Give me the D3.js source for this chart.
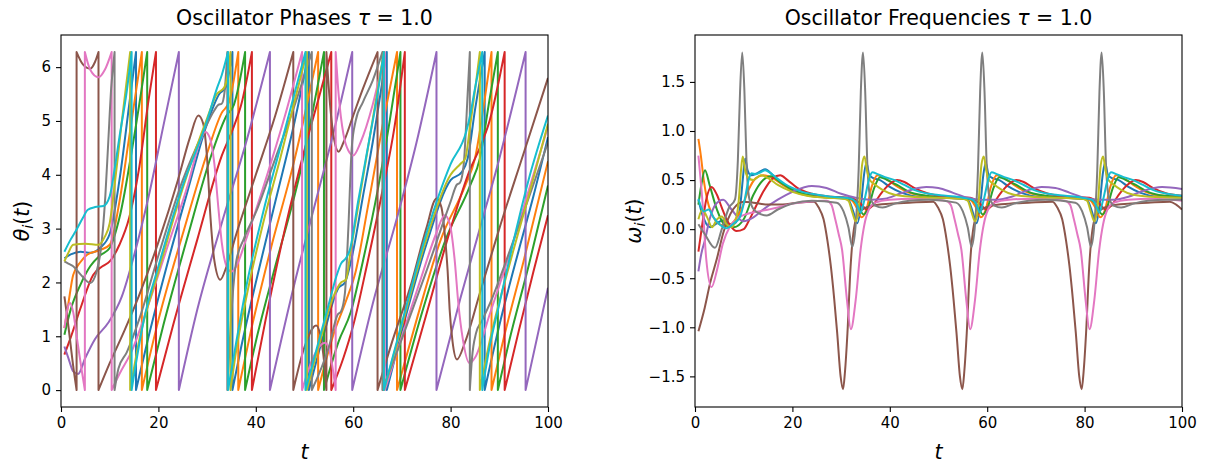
<!DOCTYPE html>
<html lang="en">
    <head>
        <meta charset="utf-8">
        <script src="https://d3js.org/d3.v7.min.js"></script>
        <style>
            body { margin: 0; background: #fff; }
            svg { display: block; }
            text { font-family: "DejaVu Sans", sans-serif; fill: #000; }
        </style>
        <title>Oscillator Phases and Frequencies</title>
    </head>
    <body>
        <svg id="chart" width="1206" height="467"></svg>
        <script>
            // ------------------------------------------------------------------------
            // Data: [t, value] knots per oscillator.
            // In the phase panel a repeated t marks a wrap (6.28 -> 0 or 0 -> 6.28).
            // ------------------------------------------------------------------------
            const names = ["blue", "orange", "green", "red", "purple", "brown", "pink", "gray", "olive", "cyan"];
            const colors = ["#1f77b4", "#ff7f0e", "#2ca02c", "#d62728", "#9467bd", "#8c564b", "#e377c2", "#7f7f7f", "#bcbd22", "#17becf"];
            const xTicks = [0, 20, 40, 60, 80, 100];
            const phaseTicks = [0, 1, 2, 3, 4, 5, 6];
            const freqTicks = [-1.5, -1.0, -0.5, 0.0, 0.5, 1.0, 1.5];

            const thetaBlue = [[0.7,2.45],[2,2.52],[4,2.57],[6,2.55],[8,2.64],[10,2.9],[12,3.9],[14,5.3],[15.4,6.28],[15.4,0],[18,1.0],[22,2.4],[26,3.7],[30,4.95],[32.5,5.5],[33.8,5.62],[35.2,6.28],[35.2,0],[37,0.8],[40,2.0],[44,3.5],[48,5.0],[50.9,6.28],[50.9,0],[54,1.05],[57,1.9],[58.3,2.0],[59.8,2.5],[62,3.6],[64,4.6],[66.9,6.28],[66.9,0],[70,1.1],[75,2.7],[80,3.9],[82.3,4.05],[83.5,4.3],[85,5.2],[87,6.28],[87,0],[90,1.2],[94,2.6],[97,3.6],[100,4.7]];
            const thetaOrange = [[0.7,1.15],[1.5,1.6],[2.5,2.14],[4,2.38],[5.3,2.51],[8,2.6],[10,2.7],[12,3.5],[14,4.7],[16.6,6.28],[16.6,0],[20,1.3],[25,2.9],[30,4.4],[33,5.15],[34.5,5.35],[36.4,6.28],[36.4,0],[39,1.1],[43,2.6],[48,4.3],[52.8,6.28],[52.8,0],[56,1.05],[58.5,1.65],[60.5,2.2],[63,3.4],[66,4.9],[69,6.28],[69,0],[73,1.3],[78,2.8],[83,3.8],[85,4.3],[87,5.4],[88.4,6.28],[88.4,0],[91,1.0],[95,2.4],[100,4.25]];
            const thetaGreen = [[0.7,1.03],[2,1.5],[4,1.96],[6,2.3],[8,2.5],[10,2.64],[12,3.2],[15,4.7],[17.7,6.28],[17.7,0],[21,1.2],[26,2.85],[31,4.4],[34,5.1],[35.5,5.3],[37.8,6.28],[37.8,0],[40,0.9],[44,2.3],[49,4.0],[54,6.28],[54,0],[57,0.9],[59.5,1.45],[62,2.4],[65,3.7],[67.5,5.0],[69.7,6.28],[69.7,0],[74,1.4],[79,2.8],[84,3.8],[86,4.3],[88,5.4],[89.7,6.28],[89.7,0],[92,0.9],[96,2.3],[100,3.8]];
            const thetaRed = [[0.7,0.66],[2,0.98],[4,1.52],[6.6,2.14],[8.5,2.3],[10,2.39],[12,2.7],[14,3.2],[16,4.1],[18,5.4],[19.5,6.28],[19.5,0],[23,1.2],[28,2.8],[33,4.35],[35.5,4.9],[37,5.3],[39.2,6.28],[39.2,0],[42,1.3],[46,3.0],[50.4,4.6],[53,5.45],[55.5,6.28],[55.5,0],[58,0.6],[60,1.2],[63,2.4],[66,3.7],[68.5,4.9],[70.6,6.28],[70.6,0],[75,1.4],[80,3.0],[84,4.1],[86,4.5],[88,5.0],[91.1,6.28],[91.1,0],[94,1.1],[97,2.2],[100,3.25]];
            const thetaPurple = [[0.7,0.81],[1.5,0.6],[2.5,0.35],[3.5,0.3],[5,0.6],[7,0.95],[9.7,1.25],[12.5,1.74],[15,2.5],[18,3.6],[21,4.9],[24.2,6.28],[24.2,0],[28,1.5],[33,3.1],[38,4.6],[42.9,6.28],[42.9,0],[48,2.0],[52,3.4],[56,4.8],[59.8,6.28],[59.8,0],[64,1.6],[69,3.2],[73,4.6],[77.1,6.28],[77.1,0],[82,1.7],[86,3.0],[90,4.3],[95.4,6.28],[95.4,0],[100,1.9]];
            const thetaBrown = [[0.7,1.74],[1.5,1.2],[2.5,0.45],[3.2,0],[3.2,6.28],[4.5,6.05],[6,5.97],[7,6.1],[7.7,6.28],[7.7,0],[10,0.5],[13,1.1],[16,1.75],[20,2.75],[24,3.9],[26.5,4.7],[28.2,5.1],[29.2,4.95],[30,4.3],[30.7,3.2],[31.5,2.4],[32.7,2.05],[34,2.3],[36,2.9],[40,4.0],[44,5.1],[47.7,6.28],[47.7,0],[50,0.8],[52.4,1.2],[53.3,1.0],[54,0.55],[54.5,0],[54.5,6.28],[55.3,5.25],[56.1,4.65],[57,4.43],[58,4.6],[60,5.1],[62,5.6],[65,6.28],[65,0],[68,0.9],[72,2.0],[75,3.0],[77.1,3.56],[78.1,3.4],[78.9,2.8],[79.4,2.2],[79.8,1.5],[80.4,0.9],[81.3,0.57],[83,0.9],[86,1.8],[90,3.0],[95,4.4],[100,5.8]];
            const thetaPink = [[0.7,1.15],[1.3,1.5],[1.85,1.62],[2.5,1.45],[3.3,0.95],[4.2,0.4],[4.9,0],[4.9,6.28],[6,5.95],[7.7,5.81],[9,5.95],[10.4,6.28],[10.4,0],[12,0.3],[14.5,0.72],[18,1.6],[22,2.7],[26,3.8],[28.5,4.6],[29.6,4.8],[30.5,4.7],[31.5,4.2],[32.3,3.4],[33,2.75],[34,2.3],[35,2.2],[36,2.3],[38,2.8],[42,3.9],[46,5.1],[49.5,6.28],[49.5,0],[52,0.65],[54.2,0.88],[55,0.78],[55.8,0.4],[56.4,0],[56.4,6.28],[57,5.5],[58,4.75],[59,4.45],[60,4.36],[61.5,4.6],[64,5.3],[66.5,6.28],[66.5,0],[70,1.0],[74,2.1],[77,2.9],[78.8,3.25],[79.8,3.1],[80.8,2.45],[81.6,1.6],[82.5,0.95],[83.9,0.5],[85,0.6],[88,1.4],[92,2.5],[96,3.7],[100,4.9]];
            const thetaGray = [[0.7,2.39],[1.5,2.35],[2.5,2.3],[4,2.15],[6,1.99],[7.3,2.2],[8.3,2.7],[9.1,3.6],[9.7,4.6],[10.3,5.6],[11,6.28],[11,0],[11.8,0.4],[13.5,0.7],[16,1.3],[20,2.5],[25,3.9],[29,4.75],[31.5,5.2],[32.3,5.3],[33,5.32],[33.6,5.55],[34.15,6.28],[34.15,0],[34.6,0.8],[35.2,1.7],[36,2.4],[37.5,2.8],[40,3.3],[44,4.3],[48,5.3],[51.5,6.28],[51.5,0],[55,0.8],[56.8,1.4],[57.5,1.46],[58.3,1.8],[59,3.0],[59.7,4.5],[60.5,5.0],[62,5.35],[64,5.75],[66,6.28],[66,0],[70,0.95],[75,2.2],[80,3.5],[81.3,3.82],[81.9,3.85],[82.7,4.2],[83.5,5.5],[83.95,6.28],[83.95,0],[84.4,0.6],[85.2,1.05],[86.5,1.3],[88.5,1.7],[91,2.3],[95,3.3],[100,4.6]];
            const thetaOlive = [[0.7,2.39],[1.5,2.55],[2.5,2.7],[5,2.72],[7.7,2.7],[9,2.85],[10,3.1],[11,3.8],[12.5,5.0],[14.2,6.28],[14.2,0],[16,0.9],[20,2.2],[25,3.75],[30,5.05],[32,5.5],[33.5,5.62],[34.3,5.9],[34.8,6.28],[34.8,0],[36,0.75],[38,1.7],[41.5,3.1],[45,4.3],[50.5,6.28],[50.5,0],[53,0.85],[56,1.75],[57.5,2.0],[58.5,2.05],[59.5,2.6],[61,3.4],[63.5,4.75],[66.3,6.28],[66.3,0],[70,1.2],[75,2.8],[80,4.0],[82,4.2],[83,4.3],[84,4.9],[85.2,5.7],[86,6.28],[86,0],[88,0.9],[92,2.3],[96,3.6],[100,4.95]];
            const thetaCyan = [[0.7,2.57],[2,2.8],[3,2.95],[4.5,3.2],[5.5,3.35],[7,3.4],[8.7,3.42],[10,3.6],[11,4.1],[12,4.7],[13.5,5.55],[14.5,6.28],[14.5,0],[17,1.3],[20,2.3],[25,3.8],[29.9,4.98],[32,5.6],[33,5.85],[34.3,6.28],[34.3,0],[36,0.9],[38,1.9],[41.5,3.3],[45,4.5],[50.2,6.28],[50.2,0],[52,0.6],[55,1.6],[56.5,2.1],[57.5,2.35],[58.5,2.45],[59.3,2.6],[61,3.5],[63.4,4.7],[65,5.5],[66.3,6.28],[66.3,0],[70,1.25],[75,2.9],[80,4.2],[83.2,4.8],[84,5.1],[85,5.6],[86.5,6.28],[86.5,0],[88,0.8],[90,1.6],[93,2.8],[96,3.9],[100,5.1]];

            const omegaBlue = [[0.7,0.3],[1.5,0.15],[3.1,0.02],[4.5,0.06],[5.8,0.09],[7,0.05],[8.2,0.06],[9.2,0.2],[9.8,0.5],[10.3,0.72],[10.8,0.6],[11.5,0.55],[12.8,0.57],[14.4,0.61],[16,0.55],[18,0.46],[20,0.4],[23,0.35],[27,0.33],[30.5,0.32],[31.5,0.3],[32.5,0.18],[33.3,0.06],[34.1,0.25],[34.7,0.55],[35.2,0.68],[35.8,0.55],[36.6,0.52],[38,0.5],[40,0.43],[42.5,0.37],[46,0.33],[51,0.32],[55,0.31],[56,0.3],[57,0.18],[57.8,0.06],[58.6,0.25],[59.2,0.55],[59.7,0.68],[60.3,0.55],[61.1,0.52],[62.5,0.5],[64.5,0.43],[67,0.37],[70.5,0.33],[75.5,0.32],[79.5,0.31],[80.5,0.3],[81.5,0.18],[82.3,0.06],[83.1,0.25],[83.7,0.55],[84.2,0.68],[84.8,0.55],[85.6,0.52],[87,0.5],[89,0.43],[91.5,0.37],[95,0.33],[100,0.32]];
            const omegaOrange = [[0.7,0.92],[1.2,0.75],[1.8,0.5],[2.5,0.3],[3.5,0.15],[5,0.05],[6.5,0.03],[8,0.08],[9.5,0.2],[11,0.4],[12.5,0.52],[14,0.55],[16,0.52],[18,0.45],[21,0.37],[25,0.33],[29,0.32],[32,0.3],[33.2,0.22],[34.2,0.12],[35.2,0.2],[36.2,0.42],[37.5,0.55],[39,0.52],[41,0.45],[43.5,0.38],[47,0.34],[52,0.32],[56.5,0.3],[57.7,0.22],[58.7,0.12],[59.7,0.2],[60.7,0.42],[62,0.55],[63.5,0.52],[65.5,0.45],[68,0.38],[71.5,0.34],[76.5,0.32],[81,0.3],[82.2,0.22],[83.2,0.12],[84.2,0.2],[85.2,0.42],[86.5,0.55],[88,0.52],[90,0.45],[92.5,0.38],[96,0.34],[100,0.33]];
            const omegaGreen = [[0.7,0.25],[1.3,0.45],[2.05,0.6],[3,0.45],[4.5,0.2],[6,0.05],[8,0.02],[10,0.1],[12,0.35],[14,0.5],[15.5,0.54],[17.5,0.48],[20,0.4],[24,0.34],[28,0.32],[32,0.31],[33.5,0.24],[34.6,0.15],[35.6,0.22],[36.8,0.42],[38,0.53],[39.5,0.5],[41.5,0.45],[44,0.38],[47.5,0.34],[52,0.32],[56.5,0.31],[58,0.24],[59.1,0.15],[60.1,0.22],[61.3,0.42],[62.5,0.53],[64,0.5],[66,0.45],[68.5,0.38],[72,0.34],[76.5,0.32],[81,0.31],[82.5,0.24],[83.6,0.15],[84.6,0.22],[85.8,0.42],[87,0.53],[88.5,0.5],[90.5,0.45],[93,0.38],[96.5,0.34],[100,0.33]];
            const omegaRed = [[0.7,-0.23],[1.5,0.05],[2.3,0.3],[3.4,0.43],[4.5,0.35],[5.5,0.22],[6.5,0.1],[7.5,0.02],[8.5,-0.02],[10,0.0],[11,0.08],[12,0.18],[14,0.38],[16,0.52],[17.5,0.55],[19,0.5],[21,0.42],[24,0.36],[28,0.33],[32,0.32],[34,0.26],[35.3,0.2],[36.5,0.24],[38,0.35],[40,0.46],[41.5,0.5],[43,0.48],[45,0.42],[48,0.36],[52,0.33],[56.5,0.32],[58.5,0.26],[59.8,0.2],[61,0.24],[62.5,0.35],[64.5,0.46],[66,0.5],[67.5,0.48],[69.5,0.42],[72.5,0.36],[76.5,0.33],[81,0.32],[83,0.26],[84.3,0.2],[85.5,0.24],[87,0.35],[89,0.46],[90.5,0.5],[92,0.48],[94,0.42],[97,0.36],[100,0.34]];
            const omegaPurple = [[0.7,-0.43],[1.3,-0.25],[2.05,-0.11],[3,0.1],[4.2,0.25],[5.8,0.3],[7.5,0.2],[9.9,0.08],[12,0.12],[14,0.2],[17,0.3],[20,0.38],[24,0.44],[27,0.42],[30,0.36],[33,0.32],[36,0.3],[39,0.31],[42,0.36],[45,0.41],[47.5,0.43],[50,0.42],[53,0.37],[56,0.32],[59,0.3],[62,0.3],[65,0.33],[68,0.39],[71.2,0.43],[74,0.42],[77,0.37],[80,0.32],[83,0.3],[86,0.3],[89,0.33],[92,0.39],[95.9,0.43],[100,0.41]];
            const omegaBrown = [[0.7,-1.04],[2,-0.8],[3.1,-0.55],[4.5,-0.3],[5.8,-0.04],[7.8,0.2],[10,0.28],[12,0.27],[15,0.25],[18,0.25],[21,0.27],[24.4,0.28],[25.4,0.22],[26.4,0.1],[27.2,-0.12],[27.9,-0.38],[28.6,-0.72],[29.2,-1.06],[29.9,-1.5],[30.4,-1.63],[30.8,-1.45],[31.3,-1.06],[31.95,-0.38],[33,0.09],[34.4,0.2],[36.4,0.24],[40,0.26],[44,0.27],[48.9,0.28],[49.9,0.22],[50.9,0.1],[51.7,-0.12],[52.4,-0.38],[53.1,-0.72],[53.7,-1.06],[54.4,-1.5],[54.9,-1.63],[55.3,-1.45],[55.8,-1.06],[56.45,-0.38],[57.5,0.09],[58.9,0.2],[60.9,0.24],[64.5,0.26],[68.5,0.27],[73.4,0.28],[74.4,0.22],[75.4,0.1],[76.2,-0.12],[76.9,-0.38],[77.6,-0.72],[78.2,-1.06],[78.9,-1.5],[79.4,-1.63],[79.8,-1.45],[80.3,-1.06],[80.95,-0.38],[82,0.09],[83.4,0.2],[85.4,0.24],[89,0.26],[93,0.27],[97.5,0.28],[98.8,0.25],[100,0.2]];
            const omegaPink = [[0.7,0.75],[1.5,0.3],[2.3,-0.3],[3.4,-0.59],[4.5,-0.42],[5.7,-0.15],[7.2,0.03],[9,0.12],[11,0.16],[13,0.18],[15.1,0.2],[17,0.22],[20,0.26],[23,0.28],[27,0.29],[28,0.25],[28.8,0.1],[29.5,-0.05],[30.2,-0.21],[31.2,-0.72],[32,-1.02],[33,-0.72],[34,-0.21],[34.8,0.05],[35.7,0.2],[37,0.27],[40,0.3],[45,0.31],[51.5,0.29],[52.5,0.25],[53.3,0.1],[54,-0.05],[54.7,-0.21],[55.7,-0.72],[56.5,-1.02],[57.5,-0.72],[58.5,-0.21],[59.3,0.05],[60.2,0.2],[61.5,0.27],[64.5,0.3],[69.5,0.31],[76,0.29],[77,0.25],[77.8,0.1],[78.5,-0.05],[79.2,-0.21],[80.2,-0.72],[81,-1.02],[82,-0.72],[83,-0.21],[83.8,0.05],[84.7,0.2],[86,0.27],[89,0.3],[94,0.31],[100,0.29]];
            const omegaGray = [[0.7,0.05],[2,-0.05],[4.1,-0.19],[5.5,0.0],[7,0.22],[8.2,0.3],[8.8,0.7],[9.25,1.4],[9.7,1.8],[10.15,1.4],[10.6,0.65],[11.2,0.3],[12.5,0.18],[14.7,0.14],[17,0.2],[20,0.26],[24,0.29],[29.1,0.27],[30.5,0.18],[31.5,0.02],[32.3,-0.18],[33,0.05],[33.6,0.6],[34.05,1.4],[34.5,1.8],[34.95,1.4],[35.4,0.65],[36,0.32],[37,0.24],[38.5,0.22],[41,0.26],[44,0.29],[48,0.3],[53.6,0.27],[55,0.18],[56,0.02],[56.8,-0.18],[57.5,0.05],[58.1,0.6],[58.55,1.4],[59,1.8],[59.45,1.4],[59.9,0.65],[60.5,0.32],[61.5,0.24],[63,0.22],[65.5,0.26],[68.5,0.29],[72,0.3],[78.1,0.27],[79.5,0.18],[80.5,0.02],[81.3,-0.18],[82,0.05],[82.6,0.6],[83.05,1.4],[83.5,1.8],[83.95,1.4],[84.4,0.65],[85,0.32],[86,0.24],[87.5,0.22],[90,0.26],[93,0.29],[97,0.3],[100,0.3]];
            const omegaOlive = [[0.7,0.1],[1.5,0.2],[2.5,0.12],[3.5,0.02],[4.5,0.1],[5.5,0.13],[6.5,0.05],[7.5,0.02],[8.3,0.08],[9,0.3],[9.45,0.6],[9.8,0.74],[10.3,0.6],[11,0.52],[12,0.5],[13.5,0.55],[15,0.52],[17,0.45],[20,0.38],[23,0.34],[27,0.32],[30.5,0.31],[31.5,0.29],[32.3,0.17],[33,0.08],[33.7,0.25],[34.3,0.65],[34.8,0.74],[35.3,0.6],[35.9,0.5],[36.8,0.46],[38.5,0.4],[41,0.35],[44.5,0.33],[50,0.32],[55,0.31],[56,0.29],[56.8,0.17],[57.5,0.08],[58.2,0.25],[58.8,0.65],[59.3,0.74],[59.8,0.6],[60.4,0.5],[61.3,0.46],[63,0.4],[65.5,0.35],[69,0.33],[74.5,0.32],[79.5,0.31],[80.5,0.29],[81.3,0.17],[82,0.08],[82.7,0.25],[83.3,0.65],[83.8,0.74],[84.3,0.6],[84.9,0.5],[85.8,0.46],[87.5,0.4],[90,0.35],[93.5,0.33],[100,0.32]];
            const omegaCyan = [[0.7,0.31],[1.3,0.22],[1.8,0.18],[2.8,0.2],[3.8,0.12],[5,0.05],[6.5,0.01],[8,0.06],[9.2,0.12],[10.2,0.3],[11,0.5],[11.6,0.57],[12.5,0.56],[13.5,0.58],[14.4,0.6],[15.5,0.57],[16.8,0.52],[18.5,0.46],[20,0.42],[22,0.38],[24,0.36],[28,0.33],[31,0.32],[32.5,0.3],[33.3,0.25],[34,0.17],[34.8,0.3],[35.7,0.5],[36.4,0.58],[37.5,0.56],[39,0.53],[41,0.5],[43,0.45],[45,0.4],[48,0.36],[51.5,0.34],[55,0.32],[57,0.3],[57.8,0.25],[58.5,0.17],[59.3,0.3],[60.2,0.5],[60.9,0.58],[62,0.56],[63.5,0.53],[65.4,0.5],[67.5,0.45],[69.5,0.4],[72.5,0.36],[76,0.34],[79.5,0.32],[81.5,0.3],[82.3,0.25],[83,0.17],[83.8,0.3],[84.7,0.5],[85.4,0.58],[86.5,0.56],[88,0.53],[90,0.5],[92,0.45],[94,0.4],[97,0.36],[100,0.34]];

            const thetaSeries = [thetaBlue, thetaOrange, thetaGreen, thetaRed, thetaPurple, thetaBrown, thetaPink, thetaGray, thetaOlive, thetaCyan];
            const omegaSeries = [omegaBlue, omegaOrange, omegaGreen, omegaRed, omegaPurple, omegaBrown, omegaPink, omegaGray, omegaOlive, omegaCyan];

            // ------------------------------------------------------------------------
            // Layout
            // ------------------------------------------------------------------------
            const svg = d3.select("#chart");
            const axTop = 35, axBottom = 407;

            const panels = [
                {id: "phase", left: 61, right: 548, yDomain: [-0.314, 6.597], ticks: phaseTicks,
                 fmt: d3.format("d"), data: thetaSeries, title: "Oscillator Phases ", sym: "θ", labelX: 29},
                {id: "freq", left: 695, right: 1182, yDomain: [-1.812, 1.978], ticks: freqTicks,
                 fmt: d3.format(".1f"), data: omegaSeries, title: "Oscillator Frequencies ", sym: "ω", labelX: 641}
            ];

            // build a path; a repeated t starts a new smooth piece joined by a straight drop
            function wrappedPath(pts, x, y) {
                const line = d3.line().x(d => x(d[0])).y(d => y(d[1])).curve(d3.curveMonotoneX);
                const segs = [[pts[0]]];
                for (let k = 1; k < pts.length; k++) {
                    if (pts[k][0] === pts[k - 1][0]) segs.push([pts[k]]);
                    else segs[segs.length - 1].push(pts[k]);
                }
                return segs.map((s, k) => {
                    const d = line(s);
                    return k ? "L" + d.slice(1) : d;
                }).join("");
            }

            panels.forEach(p => {
                const x = d3.scaleLinear().domain([0, 100]).range([p.left, p.right]);
                const y = d3.scaleLinear().domain(p.yDomain).range([axBottom, axTop]);
                const g = svg.append("g");

                g.append("clipPath").attr("id", "clip-" + p.id)
                    .append("rect")
                    .attr("x", p.left).attr("y", axTop)
                    .attr("width", p.right - p.left).attr("height", axBottom - axTop);

                // lines
                g.append("g").attr("clip-path", `url(#clip-${p.id})`)
                    .selectAll("path")
                    .data(p.data)
                    .join("path")
                    .attr("d", d => wrappedPath(d, x, y))
                    .attr("fill", "none")
                    .attr("stroke", (d, i) => colors[i])
                    .attr("stroke-width", 2)
                    .attr("stroke-linejoin", "round")
                    .attr("stroke-linecap", "butt");

                // axes
                const xAxis = g.append("g")
                    .attr("transform", `translate(0,${axBottom})`)
                    .call(d3.axisBottom(x).tickValues(xTicks).tickFormat(d3.format("d"))
                        .tickSizeInner(5).tickSizeOuter(0).tickPadding(5));
                const yAxis = g.append("g")
                    .attr("transform", `translate(${p.left},0)`)
                    .call(d3.axisLeft(y).tickValues(p.ticks).tickFormat(p.fmt)
                        .tickSizeInner(5).tickSizeOuter(0).tickPadding(5));
                [xAxis, yAxis].forEach(a => {
                    a.select(".domain").remove();
                    a.selectAll(".tick line").attr("stroke", "#000").attr("stroke-width", 1.1);
                    a.selectAll(".tick text").attr("font-size", 15).attr("fill", "#000")
                        .attr("font-family", "DejaVu Sans");
                });

                // frame
                g.append("rect")
                    .attr("x", p.left).attr("y", axTop)
                    .attr("width", p.right - p.left).attr("height", axBottom - axTop)
                    .attr("fill", "none").attr("stroke", "#000").attr("stroke-width", 1.1);

                // title
                const title = g.append("text")
                    .attr("x", (p.left + p.right) / 2).attr("y", 25)
                    .attr("text-anchor", "middle").attr("font-size", 20.5);
                title.append("tspan").text(p.title);
                title.append("tspan").attr("font-style", "italic").text("τ");
                title.append("tspan").text(" = 1.0");

                // x label
                g.append("text")
                    .attr("x", (p.left + p.right) / 2).attr("y", 459)
                    .attr("text-anchor", "middle").attr("font-size", 20.5)
                    .attr("font-style", "italic").text("t");

                // y label
                const yl = g.append("text")
                    .attr("transform", `translate(${p.labelX},${(axTop + axBottom) / 2}) rotate(-90)`)
                    .attr("text-anchor", "middle").attr("font-size", 20.5);
                yl.append("tspan").attr("font-style", "italic").text(p.sym);
                yl.append("tspan").attr("font-style", "italic").attr("font-size", 14.5).attr("dy", 4).text("i");
                yl.append("tspan").attr("dy", -4).text("(");
                yl.append("tspan").attr("font-style", "italic").text("t");
                yl.append("tspan").text(")");
            });
        </script>
    </body>
</html>
